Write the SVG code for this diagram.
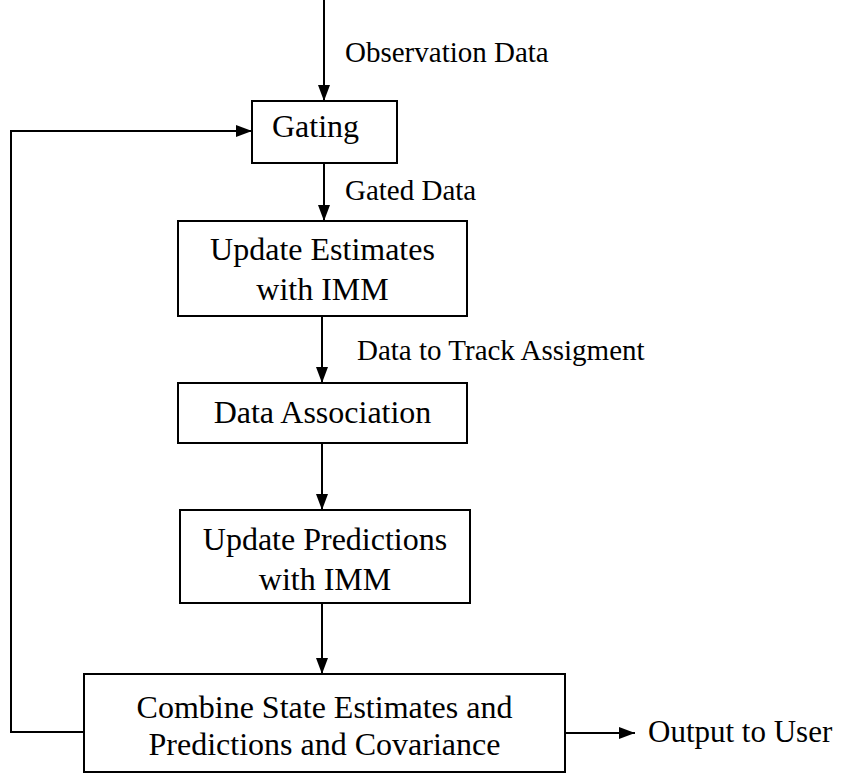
<svg xmlns="http://www.w3.org/2000/svg" width="842" height="776" viewBox="0 0 842 776">
<style>
  .box { fill: #ffffff; stroke: #000000; stroke-width: 2; }
  .node { font-family: "Liberation Serif", "Times New Roman", serif; font-size: 32px; fill: #000000; text-anchor: middle; }
  .lbl { font-family: "Liberation Serif", "Times New Roman", serif; font-size: 29px; fill: #000000; }
  .conn { fill: none; stroke: #000000; stroke-width: 2; }
</style>
<defs>
  <marker id="arrow" markerUnits="userSpaceOnUse" markerWidth="16" markerHeight="12" refX="16" refY="6" orient="auto">
    <path d="M0,0 L16,6 L0,12 z" fill="#000000"/>
  </marker>
</defs>
<rect width="842" height="776" fill="#ffffff"/>

<g id="connectors">
  <path class="conn" d="M324,0 L324,101" marker-end="url(#arrow)"/>
  <path class="conn" d="M324,163 L324,221" marker-end="url(#arrow)"/>
  <path class="conn" d="M322,316 L322,383" marker-end="url(#arrow)"/>
  <path class="conn" d="M322,443 L322,510" marker-end="url(#arrow)"/>
  <path class="conn" d="M322,603 L322,674" marker-end="url(#arrow)"/>
  <path class="conn" d="M565,733 L635,733" marker-end="url(#arrow)"/>
  <path class="conn" d="M84,732 L11,732 L11,131 L252,131" marker-end="url(#arrow)"/>
  <text class="lbl" x="345" y="62">Observation Data</text>
  <text class="lbl" x="345" y="200">Gated Data</text>
  <text class="lbl" x="357" y="360">Data to Track Assigment</text>
  <text class="lbl" x="648" y="742" style="font-size:31px">Output to User</text>
</g>

<g id="gating">
  <rect class="box" x="252" y="101" width="145" height="62"/>
  <text class="node" x="315.5" y="137">Gating</text>
</g>

<g id="update-estimates">
  <rect class="box" x="178" y="221" width="289" height="95"/>
  <text class="node" x="322.5" y="260">Update Estimates</text>
  <text class="node" x="322.5" y="300">with IMM</text>
</g>

<g id="data-association">
  <rect class="box" x="178" y="383" width="289" height="60"/>
  <text class="node" x="322.5" y="423">Data Association</text>
</g>

<g id="update-predictions">
  <rect class="box" x="180" y="510" width="290" height="93"/>
  <text class="node" x="325" y="550">Update Predictions</text>
  <text class="node" x="325" y="590">with IMM</text>
</g>

<g id="combine">
  <rect class="box" x="84" y="674" width="481" height="98"/>
  <text class="node" x="324.5" y="718">Combine State Estimates and</text>
  <text class="node" x="324.5" y="755">Predictions and Covariance</text>
</g>
</svg>
